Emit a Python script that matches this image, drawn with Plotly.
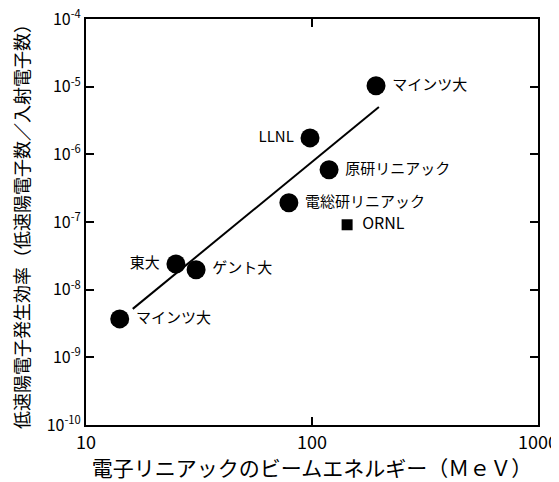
import plotly.graph_objects as go

# Data
labels = ["マインツ大", "東大", "ゲント大", "電総研リニアック", "原研リニアック", "LLNL", "マインツ大"]
energy = [14.1, 25, 30.7, 79, 119, 98, 192]
efficiency = [3.7e-9, 2.4e-8, 1.97e-8, 1.92e-7, 5.9e-7, 1.75e-6, 1.03e-5]
label_pos = ["middle right", "middle left", "middle right", "middle right", "middle right", "middle left", "middle right"]

ornl_label = ["ORNL"]
ornl_energy = [143]
ornl_eff = [9.1e-8]

fit_energy = [16.1, 197.7]
fit_eff = [5.2e-9, 5.0e-6]

y_tickvals = [1e-10, 1e-9, 1e-8, 1e-7, 1e-6, 1e-5, 1e-4]
y_ticktext = ["10<sup>-10</sup>", "10<sup>-9</sup>", "10<sup>-8</sup>", "10<sup>-7</sup>",
              "10<sup>-6</sup>", "10<sup>-5</sup>", "10<sup>-4</sup>"]
x_tickvals = [10, 100, 1000]
x_ticktext = ["10", "100", "1000"]

font = "Noto Sans CJK JP"

fig = go.Figure()
fig.add_trace(go.Scatter(x=fit_energy, y=fit_eff, mode="lines",
                         line=dict(color="black", width=2), showlegend=False))
fig.add_trace(go.Scatter(x=energy, y=efficiency, mode="markers+text",
                         text=[" " + t if p.endswith("right") else t + " " for t, p in zip(labels, label_pos)],
                         textposition=label_pos,
                         textfont=dict(family=font, size=15, color="black"),
                         marker=dict(symbol="circle", size=19, color="black"),
                         showlegend=False))
fig.add_trace(go.Scatter(x=ornl_energy, y=ornl_eff, mode="markers+text",
                         text=["  " + t for t in ornl_label], textposition="middle right",
                         textfont=dict(family=font, size=16, color="black"),
                         marker=dict(symbol="square", size=11, color="black"),
                         showlegend=False))

axis_common = dict(showgrid=False, zeroline=False, showline=True, linecolor="black",
                   linewidth=2, mirror="ticks", ticks="inside", ticklen=8,
                   tickwidth=2, tickcolor="black", automargin=False,
                   ticklabeloverflow="allow")

fig.update_xaxes(type="log", range=[1, 3], tickvals=x_tickvals, ticktext=x_ticktext,
                 tickfont=dict(family=font, size=18, color="black"),
                 title=dict(text="電子リニアックのビームエネルギー（ＭｅＶ）",
                            font=dict(family=font, size=21, color="black")),
                 **axis_common)
fig.update_yaxes(type="log", range=[-10, -4], tickvals=y_tickvals, ticktext=y_ticktext,
                 tickfont=dict(family=font, size=16, color="black"),
                 title=dict(text="低速陽電子発生効率（低速陽電子数／入射電子数）",
                            font=dict(family=font, size=18, color="black")),
                 **axis_common)

fig.update_layout(width=551, height=474, plot_bgcolor="white", paper_bgcolor="white",
                  margin=dict(l=78, r=21, t=11, b=56.5), showlegend=False)

fig.write_html("out.html")
